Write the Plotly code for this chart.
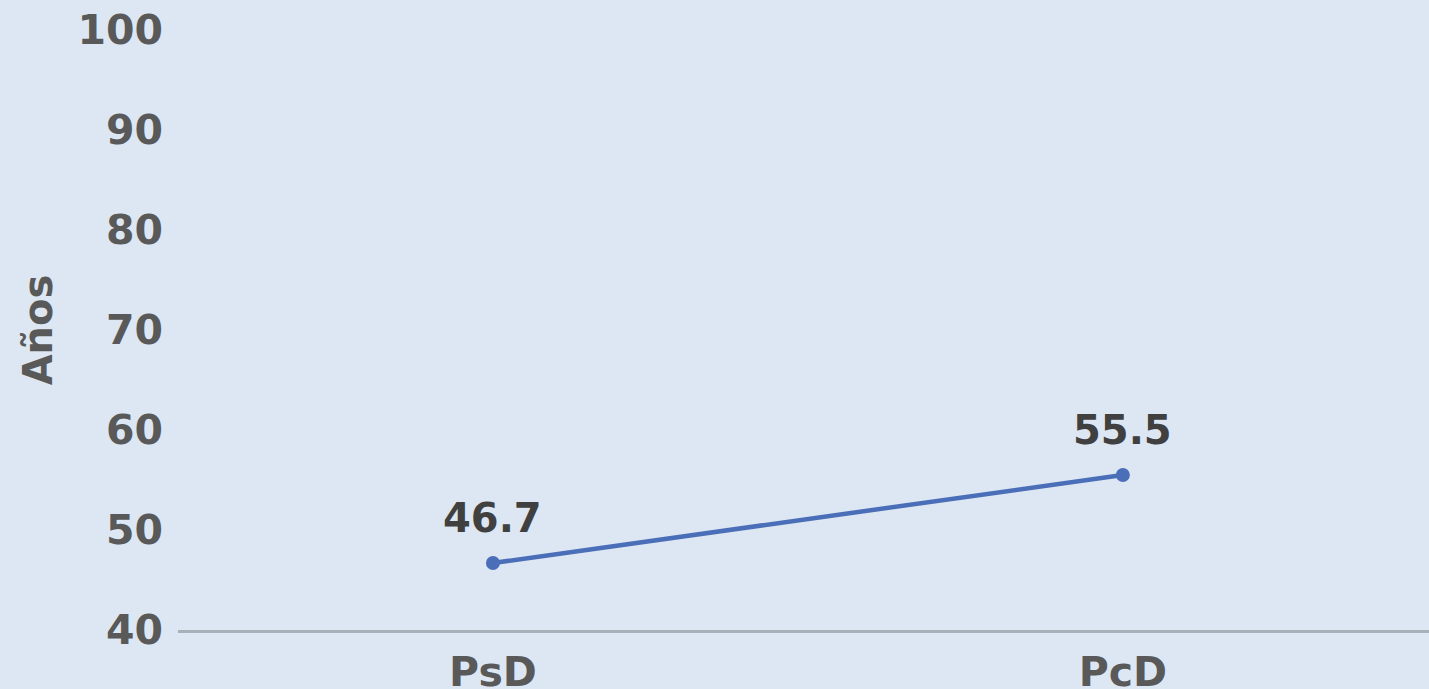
import plotly.graph_objects as go

categories = ["PsD", "PcD"]
values = [46.7, 55.5]
y_ticks = [40, 50, 60, 70, 80, 90, 100]

BG = "#DCE7F3"
LINE = "#4A6EB8"
TICK_GREY = "#595959"

fig = go.Figure()

fig.add_trace(
    go.Scatter(x=categories,
               y=values,
               mode="lines+markers",
               line=dict(color=LINE, width=4.5),
               marker=dict(color=LINE, size=14),
               showlegend=False))

# Data labels above each point
for cat, val in zip(categories, values):
    fig.add_annotation(x=cat, y=val, text=f"{val:.1f}",
                       showarrow=False, yshift=45,
                       font=dict(family="DejaVu Sans", size=40, color="#404040", weight="bold"))

fig.update_layout(
    width=1429,
    height=689,
    paper_bgcolor=BG,
    plot_bgcolor=BG,
    margin=dict(l=178, r=0, t=30, b=59, autoexpand=False),
    font=dict(family="DejaVu Sans", size=41, color=TICK_GREY, weight="bold"),
)

fig.update_xaxes(type="category",
                 range=[-0.5, 1.486],
                 automargin=False,
                 showgrid=False,
                 zeroline=False,
                 showline=True,
                 linecolor="#A7B1BA",
                 linewidth=3,
                 ticks="",
                 ticklabelstandoff=4,
                 tickfont=dict(size=41, color=TICK_GREY, weight="bold"))

fig.update_yaxes(range=[40, 100],
                 tickvals=y_ticks,
                 automargin=False,
                 showgrid=False,
                 zeroline=False,
                 showline=False,
                 ticks="",
                 ticklabelstandoff=14,
                 tickfont=dict(size=41, color=TICK_GREY, weight="bold"),
                 title=dict(text="Años", standoff=12,
                            font=dict(size=40, color=TICK_GREY, weight="bold")))

fig.write_html("out.html",
               config={"displayModeBar": False},
               post_script="document.body.style.margin='0';"
                           "document.body.style.background='#DCE7F3';")
